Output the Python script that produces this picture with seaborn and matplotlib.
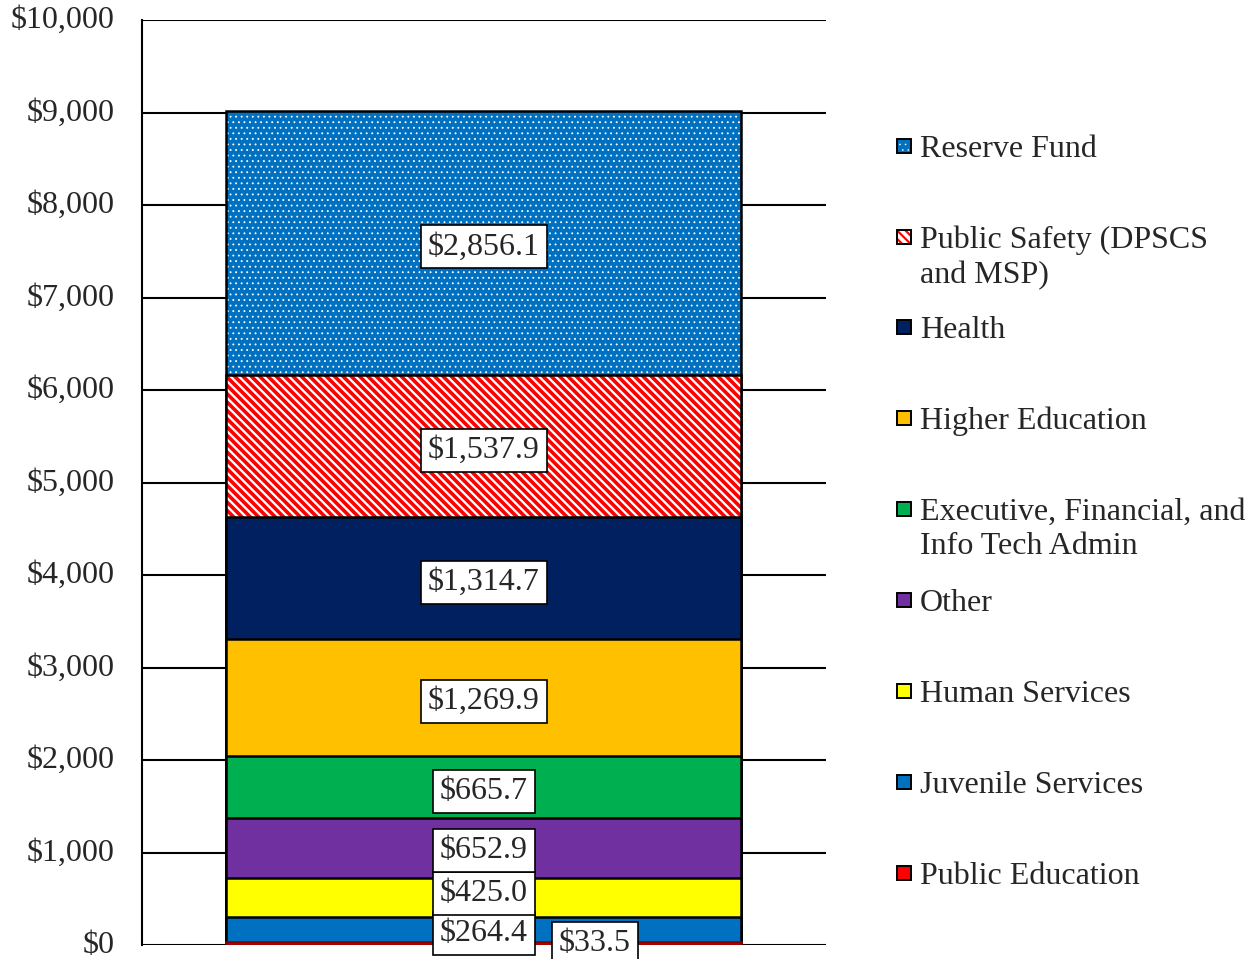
import numpy as np
import pandas as pd
import matplotlib
matplotlib.use("Agg")
import matplotlib.pyplot as plt
import matplotlib.patches as mpatches
import matplotlib.transforms as mtransforms
import seaborn as sns

# 데이터 (아래에서 위로 쌓는 순서)
categories = ['Public Education', 'Juvenile Services', 'Human Services', 'Other',
              'Executive, Financial, and\nInfo Tech Admin', 'Higher Education', 'Health',
              'Public Safety (DPSCS\nand MSP)', 'Reserve Fund']
values = [33.5, 264.4, 425.0, 652.9, 665.7, 1269.9, 1314.7, 1537.9, 2856.1]
value_labels = ['$33.5', '$264.4', '$425.0', '$652.9', '$665.7', '$1,269.9',
                '$1,314.7', '$1,537.9', '$2,856.1']
y_ticks = [0, 1000, 2000, 3000, 4000, 5000, 6000, 7000, 8000, 9000, 10000]

colors = ['#FF0000', '#0070C0', '#FFFF00', '#7030A0', '#00B050', '#FFC000',
          '#002060', '#FFFFFF', '#0070C0']
hatch_colors = [None] * 7 + ['#FF0000', '#FFFFFF']
hatches = [None] * 7 + ['\\\\\\\\', '...']
hatch_lw = [None] * 7 + [2.6, 0.6]
edge_colors = ['#8B0000'] + ['black'] * 8
# 라벨 위치 미세조정 (points)
label_offsets = [(80, 0), (0, -3), (0, 3), (0, -2), (0, -3), (0, -3), (0, -3), (0, -3), (0, -3)]

sns.set_style('white')
plt.rcParams['font.family'] = ['Liberation Serif', 'DejaVu Serif']

fig = plt.figure(figsize=(12.55, 9.59), dpi=100)
ax = fig.add_axes([0.1131, 0.0146, 0.545, 0.9645])

cum = np.cumsum(values)
mids = cum - np.array(values) / 2
bar_w = 0.753

# 누적 막대: 큰 것부터 그려서 겹치기
for i in reversed(range(len(values))):
    df = pd.DataFrame({'x': [0], 'y': [cum[i]]})
    if hatches[i]:
        with plt.rc_context({'hatch.linewidth': hatch_lw[i]}):
            sns.barplot(data=df, x='x', y='y', color=colors[i], width=bar_w, ax=ax,
                        edgecolor=hatch_colors[i], linewidth=0, hatch=hatches[i],
                        saturation=1, zorder=2)
        sns.barplot(data=df, x='x', y='y', color='black', width=bar_w, ax=ax,
                    fill=False, linewidth=1.8, zorder=2)
    else:
        sns.barplot(data=df, x='x', y='y', color=colors[i], width=bar_w, ax=ax,
                    edgecolor=edge_colors[i], linewidth=1.8, saturation=1, zorder=2)

# 값 라벨
for i in range(len(values)):
    ax.annotate(value_labels[i], (0, mids[i]), xytext=label_offsets[i],
                textcoords='offset points', ha='center', va='center', fontsize=23,
                zorder=5,
                bbox=dict(boxstyle='square,pad=0.22', fc='white', ec='black', lw=1.2))

ax.set_xlim(-0.5, 0.5)
ax.set_ylim(0, 10000)
ax.set_yticks(y_ticks)
ax.set_yticklabels(['${:,.0f}'.format(v) for v in y_ticks], fontsize=23)
ax.set_xticks([])
ax.set_xlabel('')
ax.set_ylabel('')
ax.tick_params(axis='y', length=0, pad=20)
# y축 라벨 살짝 위로 (맨 아래 $0 잘림 방지)
shift = mtransforms.ScaledTranslation(0, 2 / 72, fig.dpi_scale_trans)
for lbl in ax.get_yticklabels():
    lbl.set_transform(lbl.get_transform() + shift)
ax.yaxis.grid(True, color='black', linewidth=1.5)
ax.set_axisbelow(True)
for s in ['top', 'right', 'bottom']:
    ax.spines[s].set_visible(False)
ax.spines['left'].set_color('black')
ax.spines['left'].set_linewidth(1.5)

# 범례 (직접 배치)
W, H = 1255, 959
leg_y = [146, 237, 327, 418, 509, 600, 691, 782, 873]
for k, i in enumerate(reversed(range(len(values)))):
    yc = leg_y[k]
    x0, s = 897 / W, 14
    y0 = 1 - (yc + s / 2) / H
    if hatches[i]:
        with plt.rc_context({'hatch.linewidth': hatch_lw[i] * 0.6}):
            fig.add_artist(mpatches.Rectangle((x0, y0), s / W, s / H, transform=fig.transFigure,
                                              fc=colors[i], ec=hatch_colors[i], lw=0,
                                              hatch=hatches[i]))
    else:
        fig.add_artist(mpatches.Rectangle((x0, y0), s / W, s / H, transform=fig.transFigure,
                                          fc=colors[i], ec='none'))
    fig.add_artist(mpatches.Rectangle((x0, y0), s / W, s / H, transform=fig.transFigure,
                                      fc='none', ec='black', lw=1.4))
    fig.text(920 / W, 1 - (yc - 11) / H, categories[i], fontsize=23, ha='left', va='top',
             linespacing=1.25)

plt.savefig('out.png', dpi=100)
